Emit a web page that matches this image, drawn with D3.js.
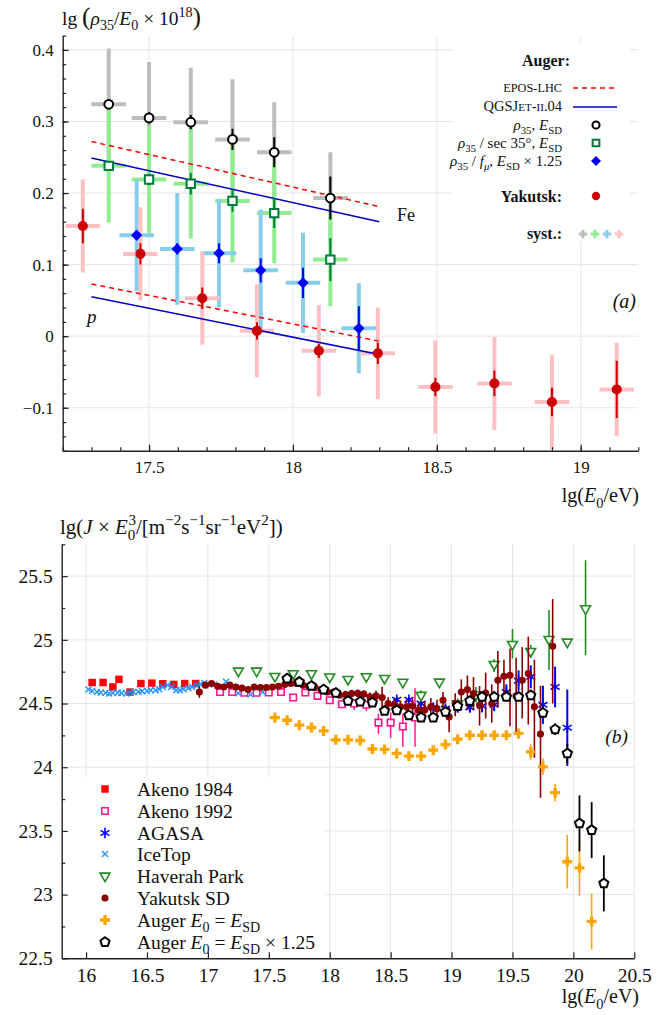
<!DOCTYPE html>
<html>
<head>
<meta charset="utf-8">
<script src="https://cdn.jsdelivr.net/npm/d3@7"></script>
<style>
  body { margin: 0; background: #fff; }
  svg text { font-family: "Liberation Serif", "DejaVu Serif", serif; fill: #111; }
</style>
</head>
<body>
<div id="chart"></div>
<script>
// ---------- panel (a): lg(rho35/E0) ----------
const augerE = [17.36, 17.50, 17.645, 17.79, 17.935, 18.13];
const augerE125 = [17.457, 17.598, 17.743, 17.888, 18.035, 18.229];
const rhoSD = [0.324, 0.305, 0.299, 0.275, 0.257, 0.193];
const rhoSDStat = [0.006, 0.008, 0.010, 0.015, 0.021, 0.030];
const rhoSDSyst = [0.078, 0.078, 0.076, 0.084, 0.070, 0.064];
const rhoSec = [0.238, 0.219, 0.213, 0.189, 0.172, 0.107];
const rhoSecStat = [0.006, 0.008, 0.015, 0.015, 0.021, 0.030];
const rhoSecSyst = [0.079, 0.075, 0.077, 0.086, 0.070, 0.065];
const rhoFmu = [0.141, 0.122, 0.116, 0.092, 0.0745, 0.011];
const rhoFmuStat = [0.006, 0.008, 0.014, 0.017, 0.021, 0.031];
const rhoFmuSyst = [0.078, 0.078, 0.076, 0.085, 0.070, 0.063];

const yakE = [17.27, 17.47, 17.685, 17.875, 18.09, 18.295, 18.495, 18.70, 18.90, 19.125];
const yakRho = [0.154, 0.115, 0.053, 0.0075, -0.0204, -0.024, -0.071, -0.066, -0.092, -0.0744];
const yakStat = [0.024, 0.015, 0.015, 0.012, 0.010, 0.015, 0.013, 0.018, 0.020, 0.040];
const yakSyst = [0.065, 0.065, 0.065, 0.065, 0.064, 0.064, 0.065, 0.065, 0.066, 0.065];
const systHalfWidth = 0.06;

// model lines [lgE start, lgE end], [value start, value end]
const modelE = [17.3, 18.3];
const eposFe = [0.272, 0.181];
const qgsFe = [0.249, 0.160];
const eposP = [0.073, -0.007];
const qgsP = [0.055, -0.0255];

const aXTicks = [17.5, 18, 18.5, 19];
const aYTicks = [-0.1, 0, 0.1, 0.2, 0.3, 0.4];

// ---------- panel (b): lg(J E^3) ----------
const akeno84E = [16.05, 16.14, 16.22, 16.27, 16.36, 16.45, 16.54, 16.63, 16.72, 16.81, 16.90];
const akeno84J = [24.665, 24.665, 24.63, 24.69, 24.59, 24.657, 24.66, 24.655, 24.65, 24.657, 24.657];

const akeno92E = [17.10, 17.20, 17.30, 17.40, 17.50, 17.60, 17.70, 17.80, 17.90, 18.00, 18.10, 18.20, 18.30, 18.40, 18.50, 18.60, 18.70];
const akeno92J = [24.59, 24.59, 24.585, 24.585, 24.586, 24.59, 24.547, 24.586, 24.56, 24.526, 24.494, 24.50, 24.49, 24.35, 24.35, 24.32, 24.39];
const akeno92Lo = [0, 0, 0, 0, 0, 0, 0, 0, 0, 0, 0.01, 0.05, 0.05, 0.09, 0.12, 0.16, 0.23];
const akeno92Hi = [0, 0, 0, 0, 0, 0, 0, 0, 0, 0, 0.01, 0.02, 0.02, 0.07, 0.08, 0.10, 0.23];

const agasaE = [18.55, 18.65, 18.75, 18.85, 18.95, 19.05, 19.15, 19.25, 19.35, 19.45, 19.55, 19.65, 19.75, 19.85, 19.95];
const agasaJ = [24.53, 24.53, 24.50, 24.47, 24.46, 24.47, 24.47, 24.48, 24.49, 24.59, 24.68, 24.71, 24.49, 24.63, 24.31];
const agasaErr = [0.02, 0.02, 0.03, 0.03, 0.03, 0.04, 0.04, 0.05, 0.05, 0.06, 0.08, 0.09, 0.15, 0.16, 0.30];

const iceTopE = [16.02, 16.05, 16.09, 16.12, 16.16, 16.19, 16.22, 16.26, 16.29, 16.33, 16.36, 16.39, 16.43, 16.46, 16.50, 16.53, 16.57,
  16.60, 16.63, 16.67, 16.70, 16.74, 16.77, 16.80, 16.84, 16.87, 16.91, 16.94, 16.97, 17.05, 17.15, 17.25, 17.35, 17.45];
const iceTopJ = [24.61, 24.60, 24.59, 24.586, 24.583, 24.578, 24.583, 24.586, 24.583, 24.578, 24.586, 24.591, 24.591, 24.597, 24.599, 24.604, 24.604,
  24.612, 24.63, 24.644, 24.63, 24.604, 24.604, 24.612, 24.622, 24.63, 24.644, 24.651, 24.662, 24.65, 24.67, 24.58, 24.57, 24.59];

const hpE = [17.25, 17.40, 17.55, 17.70, 17.85, 18.00, 18.15, 18.30, 18.45, 18.60, 18.75, 18.90, 19.05, 19.20, 19.35, 19.50, 19.65, 19.80, 19.95, 20.10];
const hpJ = [24.756, 24.756, 24.714, 24.735, 24.735, 24.709, 24.69, 24.712, 24.698, 24.668, 24.565, 24.669, 24.50, 24.57, 24.808, 24.965, 24.91, 25.004, 24.983, 25.245];
const hpLo = [0, 0, 0, 0, 0, 0, 0, 0, 0, 0, 0.04, 0.02, 0.04, 0.06, 0.06, 0.11, 0.05, 0.24, 0, 0.365];
const hpHi = [0, 0, 0, 0, 0, 0, 0, 0, 0, 0, 0.04, 0.02, 0.04, 0.06, 0.04, 0.12, 0.05, 0.23, 0, 0.38];

const yakSdE = [16.93, 16.98, 17.03, 17.08, 17.13, 17.18, 17.23, 17.28, 17.33, 17.38, 17.43, 17.48, 17.53, 17.58, 17.63, 17.68, 17.73, 17.78,
  17.83, 17.88, 17.93, 17.98, 18.03, 18.08, 18.13, 18.18, 18.23, 18.28, 18.33, 18.38, 18.43, 18.48, 18.53, 18.58, 18.63, 18.68, 18.73, 18.78,
  18.83, 18.88, 18.93, 18.98, 19.03, 19.08, 19.13, 19.18, 19.23, 19.28, 19.33, 19.38, 19.43, 19.48, 19.53, 19.58, 19.63, 19.68, 19.73, 19.83];
const yakSdJ = [24.59, 24.644, 24.657, 24.636, 24.63, 24.644, 24.63, 24.622, 24.61, 24.63, 24.626, 24.626, 24.63, 24.636, 24.649, 24.657, 24.657, 24.644,
  24.636, 24.626, 24.61, 24.591, 24.59, 24.565, 24.57, 24.578, 24.58, 24.575, 24.552, 24.56, 24.547, 24.50, 24.49, 24.474, 24.474, 24.48, 24.448, 24.45,
  24.474, 24.46, 24.526, 24.395, 24.50, 24.59, 24.61, 24.578, 24.487, 24.583, 24.50, 24.683, 24.714, 24.722, 24.56, 24.683, 24.735, 24.474, 24.26, 24.95];
const yakSdLo = [0.045, 0.02, 0.02, 0.02, 0.02, 0.02, 0.02, 0.02, 0.02, 0.02, 0.02, 0.02, 0.02, 0.02, 0.02, 0.02, 0.02, 0.02,
  0.02, 0.02, 0.025, 0.025, 0.025, 0.025, 0.03, 0.03, 0.03, 0.03, 0.035, 0.04, 0.14, 0.05, 0.05, 0.05, 0.06, 0.06, 0.06, 0.07,
  0.07, 0.07, 0.065, 0.12, 0.10, 0.12, 0.16, 0.13, 0.16, 0.20, 0.15, 0.21, 0.19, 0.40, 0.30, 0.30, 0.40, 0.40, 0.50, 0.45];
const yakSdHi = [0.045, 0.02, 0.02, 0.02, 0.02, 0.02, 0.02, 0.02, 0.02, 0.02, 0.02, 0.02, 0.02, 0.02, 0.02, 0.02, 0.02, 0.02,
  0.02, 0.02, 0.025, 0.025, 0.025, 0.025, 0.03, 0.03, 0.03, 0.03, 0.035, 0.04, 0.084, 0.05, 0.05, 0.05, 0.06, 0.06, 0.06, 0.07,
  0.07, 0.07, 0.065, 0.08, 0.08, 0.10, 0.11, 0.13, 0.15, 0.16, 0.15, 0.23, 0.13, 0.21, 0.30, 0.26, 0.29, 0.37, 0.38, 0.37];

const augerSdE = [17.55, 17.65, 17.75, 17.85, 17.95, 18.05, 18.15, 18.25, 18.35, 18.45, 18.55, 18.65, 18.75, 18.85, 18.95, 19.05, 19.15, 19.25,
  19.35, 19.45, 19.55, 19.65, 19.75, 19.85, 19.95, 20.05, 20.15];
const augerSdJ = [24.39, 24.369, 24.33, 24.312, 24.285, 24.215, 24.215, 24.21, 24.143, 24.14, 24.108, 24.087, 24.087, 24.134, 24.178, 24.22, 24.251, 24.251,
  24.251, 24.251, 24.265, 24.12, 24.003, 23.80, 23.258, 23.21, 22.79];
const augerSdErr = [0, 0, 0, 0, 0, 0, 0, 0, 0, 0, 0, 0, 0, 0, 0, 0, 0, 0, 0.01, 0.015, 0.02, 0.06, 0.065, 0.07, 0.21, 0.22, 0.22];

const auger125E = [17.65, 17.75, 17.85, 17.95, 18.05, 18.15, 18.25, 18.35, 18.45, 18.55, 18.65, 18.75, 18.85, 18.95, 19.05, 19.15, 19.25, 19.35,
  19.45, 19.55, 19.65, 19.75, 19.85, 19.95, 20.05, 20.15, 20.25];
const auger125J = [24.696, 24.67, 24.638, 24.61, 24.583, 24.52, 24.515, 24.508, 24.442, 24.447, 24.408, 24.39, 24.39, 24.434, 24.48, 24.52, 24.552, 24.552,
  24.552, 24.552, 24.565, 24.427, 24.298, 24.108, 23.559, 23.506, 23.088];
const auger125Err = [0, 0, 0, 0, 0, 0, 0, 0, 0, 0, 0, 0, 0, 0, 0, 0, 0, 0, 0.01, 0.015, 0.02, 0.035, 0.045, 0.075, 0.22, 0.22, 0.22];

const bXTicks = [16, 16.5, 17, 17.5, 18, 18.5, 19, 19.5, 20, 20.5];
const bYTicks = [22.5, 23, 23.5, 24, 24.5, 25, 25.5];

// ---------- drawing ----------
const svg = d3.select('#chart').append('svg')
  .attr('width', 671)
  .attr('height', 1015)

const fmt = d3.format('~g');
const axisColor = '#222';
const gridColor = '#e5e5e5';

// pentagon marker for Auger x1.25
const pentagon = {
  draw(ctx, size) {
    const r = Math.sqrt(size / 2.378);
    for (let k = 0; k < 5; k++) {
      const a = -Math.PI / 2 + k * 2 * Math.PI / 5;
      const px = r * Math.cos(a), py = r * Math.sin(a);
      if (k === 0) ctx.moveTo(px, py); else ctx.lineTo(px, py);
    }
    ctx.closePath();
  }
};

// text with italic / sub / sup pieces; optional per-piece size factor
function rich(sel, parts, size) {
  let off = 0;
  parts.forEach(([s, kind, dx, scale]) => {
    const k = (kind || '').split(' ');
    const t = sel.append('tspan').text(s);
    let target = 0, fs = size * (scale || 1);
    if (k.includes('sub')) { target = size * 0.28; fs = size * 0.72; }
    if (k.includes('sup')) { target = -size * 0.42; fs = size * 0.72; }
    if (k.includes('big')) fs = size * 1.3;
    t.attr('dy', target - off).attr('font-size', fs);
    if (dx) t.attr('dx', dx);
    off = target;
    if (k.includes('i')) t.attr('font-style', 'italic');
    if (k.includes('b')) t.attr('font-weight', 'bold');
  });
  return sel;
}

function label(g, x, y, parts, size, anchor) {
  const t = g.append('text').attr('x', x).attr('y', y)
    .attr('font-size', size).attr('text-anchor', anchor || 'start');
  return rich(t, parts, size);
}

function vErr(g, xs, ys, lo, hi, x, y, color, w) {
  g.selectAll(null)
    .data(d3.range(xs.length).filter(i => lo[i] > 0 || hi[i] > 0))
    .join('line')
    .attr('x1', i => x(xs[i])).attr('x2', i => x(xs[i]))
    .attr('y1', i => y(ys[i] - lo[i])).attr('y2', i => y(ys[i] + hi[i]))
    .attr('stroke', color).attr('stroke-width', w);
}

function hErr(g, xs, ys, half, x, y, color, w) {
  g.selectAll(null)
    .data(d3.range(xs.length))
    .join('line')
    .attr('x1', i => x(xs[i] - half)).attr('x2', i => x(xs[i] + half))
    .attr('y1', i => y(ys[i])).attr('y2', i => y(ys[i]))
    .attr('stroke', color).attr('stroke-width', w);
}

function markers(g, xs, ys, x, y, type, size, fill, stroke, sw, rot) {
  g.selectAll(null)
    .data(d3.range(xs.length))
    .join('path')
    .attr('d', d3.symbol().type(type).size(size))
    .attr('transform', i => `translate(${x(xs[i])},${y(ys[i])})` + (rot ? ` rotate(${rot})` : ''))
    .attr('fill', fill)
    .attr('stroke', stroke || 'none')
    .attr('stroke-width', sw || 0);
}

function drawGrid(g, x, y, xt, yt) {
  const grid = g.append('g');
  grid.selectAll(null).data(xt).join('line')
    .attr('x1', d => x(d)).attr('x2', d => x(d))
    .attr('y1', y.range()[0]).attr('y2', y.range()[1])
    .attr('stroke', gridColor);
  grid.selectAll(null).data(yt.filter(d => d > y.domain()[0])).join('line')
    .attr('y1', d => y(d)).attr('y2', d => y(d))
    .attr('x1', x.range()[0]).attr('x2', x.range()[1])
    .attr('stroke', gridColor);
  return grid;
}

function drawTicks(g, x, y, xt, yt, xMinor, yMinor, fs) {
  g.append('g').attr('transform', `translate(0,${y.range()[0]})`)
    .call(d3.axisBottom(x).tickValues(xt).tickFormat(fmt).tickSizeInner(-6).tickSizeOuter(0).tickPadding(10));
  g.append('g').attr('transform', `translate(${x.range()[0]},0)`)
    .call(d3.axisLeft(y).tickValues(yt).tickFormat(fmt).tickSizeInner(-6).tickSizeOuter(0).tickPadding(9));
  if (xMinor.length) {
    g.append('g').attr('transform', `translate(0,${y.range()[0]})`)
      .call(d3.axisBottom(x).tickValues(xMinor).tickFormat('').tickSizeInner(-3.5).tickSizeOuter(0))
      .select('.domain').remove();
  }
  g.append('g').attr('transform', `translate(${x.range()[0]},0)`)
    .call(d3.axisLeft(y).tickValues(yMinor).tickFormat('').tickSizeInner(-3.5).tickSizeOuter(0))
    .select('.domain').remove();
  g.selectAll('.domain').attr('stroke', axisColor).attr('stroke-width', 1.4);
  g.selectAll('.tick line').attr('stroke', axisColor).attr('stroke-width', 1.2);
  g.selectAll('.tick text').attr('font-size', fs).attr('font-family', '"Liberation Serif", serif').attr('fill', '#111');
}

// ===== panel (a) =====
const xA = d3.scaleLinear().domain([17.2, 19.2]).range([62.7, 638.3]);
const yA = d3.scaleLinear().domain([-0.16, 0.42]).range([450.7, 35.6]);
const gA = svg.append('g');

svg.append('clipPath').attr('id', 'clipA').append('rect')
  .attr('x', 62.7).attr('y', 35.6).attr('width', 638.3 - 62.7).attr('height', 450.7 - 35.6);

drawGrid(gA, xA, yA, aXTicks, aYTicks);

// legend background for (a)
gA.append('rect').attr('x', 453).attr('y', 43).attr('width', 177).attr('height', 198).attr('fill', '#fff');

const pA = gA.append('g').attr('clip-path', 'url(#clipA)');

// systematics (thick, light)
vErr(pA, augerE, rhoSD, rhoSDSyst, rhoSDSyst, xA, yA, '#bdbdbd', 4);
hErr(pA, augerE, rhoSD, systHalfWidth, xA, yA, '#bdbdbd', 4);
vErr(pA, augerE, rhoSec, rhoSecSyst, rhoSecSyst, xA, yA, '#90ee90', 4);
hErr(pA, augerE, rhoSec, systHalfWidth, xA, yA, '#90ee90', 4);
vErr(pA, augerE125, rhoFmu, rhoFmuSyst, rhoFmuSyst, xA, yA, '#87ceeb', 4);
hErr(pA, augerE125, rhoFmu, systHalfWidth, xA, yA, '#87ceeb', 4);
vErr(pA, yakE, yakRho, yakSyst, yakSyst, xA, yA, '#ffc0c4', 4);
hErr(pA, yakE, yakRho, systHalfWidth, xA, yA, '#ffc0c4', 4);

// model lines
[[eposFe, true], [qgsFe, false], [eposP, true], [qgsP, false]].forEach(([vals, dashed]) => {
  pA.append('line')
    .attr('x1', xA(modelE[0])).attr('x2', xA(modelE[1]))
    .attr('y1', yA(vals[0])).attr('y2', yA(vals[1]))
    .attr('stroke', dashed ? '#ff0000' : '#0000cc')
    .attr('stroke-width', 1.5)
    .attr('stroke-dasharray', dashed ? '5,4' : null);
});

// statistical errors + markers
vErr(pA, augerE, rhoSD, rhoSDStat, rhoSDStat, xA, yA, '#000', 2);
markers(pA, augerE, rhoSD, xA, yA, d3.symbolCircle, 60, '#fff', '#000', 2);
vErr(pA, augerE, rhoSec, rhoSecStat, rhoSecStat, xA, yA, '#007a3d', 2);
markers(pA, augerE, rhoSec, xA, yA, d3.symbolSquare, 70, '#fff', '#007a3d', 2);
vErr(pA, augerE125, rhoFmu, rhoFmuStat, rhoFmuStat, xA, yA, '#0000ff', 2);
markers(pA, augerE125, rhoFmu, xA, yA, d3.symbolSquare, 64, '#0000ff', null, 0, 45);
vErr(pA, yakE, yakRho, yakStat, yakStat, xA, yA, '#cc0000', 2);
markers(pA, yakE, yakRho, xA, yA, d3.symbolCircle, 80, '#cc0000');

drawTicks(gA, xA, yA, aXTicks, aYTicks, d3.range(17.2, 19.21, 0.1).map(d => +d.toFixed(1)),
  d3.range(-0.16, 0.421, 0.02).map(d => +d.toFixed(2)), 17);

// labels in (a)
label(gA, 397, 221, [['Fe', '']], 18);
label(gA, 87, 323, [['p', 'i']], 19);
label(gA, 636, 308, [['(a)', 'i']], 20, 'end');
label(gA, 62, 25, [['lg ', ''], ['(', 'big'], ['ρ', 'i'], ['35', 'sub'], ['/', ''], ['E', 'i'], ['0', 'sub'], [' × 10', ''], ['18', 'sup'], [')', 'big']], 19.5);
label(gA, 639, 502, [['lg(', ''], ['E', 'i'], ['0', 'sub'], ['/eV)', '']], 20, 'end');

// legend (a)
const legA = gA.append('g');
const mx = 596;
label(legA, 570, 66, [['Auger:', 'b']], 16, 'end');
label(legA, 562, 92, [['EPOS-LHC', '']], 12.3, 'end');
legA.append('line').attr('x1', 573).attr('x2', 617).attr('y1', 88).attr('y2', 88)
  .attr('stroke', '#ff0000').attr('stroke-width', 1.5).attr('stroke-dasharray', '5,4');
label(legA, 562, 111, [['QGSJ', ''], ['ET', '', 0, 0.76], ['-', ''], ['II', '', 0, 0.76], ['.04', '']], 14.5, 'end');
legA.append('line').attr('x1', 573).attr('x2', 617).attr('y1', 107).attr('y2', 107)
  .attr('stroke', '#0000cc').attr('stroke-width', 1.5);
label(legA, 562, 130, [['ρ', 'i'], ['35', 'sub'], [', ', ''], ['E', 'i'], ['SD', 'sub']], 15, 'end');
legA.append('path').attr('d', d3.symbol(d3.symbolCircle, 40)()).attr('transform', `translate(${mx},125)`)
  .attr('fill', '#fff').attr('stroke', '#000').attr('stroke-width', 2);
label(legA, 562, 148, [['ρ', 'i'], ['35', 'sub'], [' / sec 35°, ', ''], ['E', 'i'], ['SD', 'sub']], 15, 'end');
legA.append('path').attr('d', d3.symbol(d3.symbolSquare, 45)()).attr('transform', `translate(${mx},143)`)
  .attr('fill', '#fff').attr('stroke', '#007a3d').attr('stroke-width', 2);
label(legA, 562, 166, [['ρ', 'i'], ['35', 'sub'], [' / ', ''], ['f', 'i'], ['μ', 'i sub'], [', ', ''], ['E', 'i'], ['SD', 'sub'], [' × 1.25', '']], 15, 'end');
legA.append('path').attr('d', d3.symbol(d3.symbolSquare, 50)()).attr('transform', `translate(${mx},161) rotate(45)`)
  .attr('fill', '#0000ff');
label(legA, 562, 202, [['Yakutsk:', 'b']], 16, 'end');
legA.append('path').attr('d', d3.symbol(d3.symbolCircle, 55)()).attr('transform', `translate(${mx},196)`)
  .attr('fill', '#cc0000');
label(legA, 562, 239, [['syst.:', 'b']], 16, 'end');
['#bdbdbd', '#90ee90', '#87ceeb', '#ffc0c4'].forEach((c, i) => {
  legA.append('path').attr('d', d3.symbol(d3.symbolCross, 40)()).attr('transform', `translate(${583 + i * 12},234)`)
    .attr('fill', c);
});

// ===== panel (b) =====
const xB = d3.scaleLinear().domain([15.8, 20.5]).range([61.7, 634.3]);
const yB = d3.scaleLinear().domain([22.5, 25.75]).range([958.3, 544.3]);
const gB = svg.append('g');

drawGrid(gB, xB, yB, bXTicks, bYTicks);
gB.append('rect').attr('x', 63).attr('y', 777).attr('width', 262).attr('height', 180).attr('fill', '#fff');

const pB = gB.append('g');

markers(pB, akeno84E, akeno84J, xB, yB, d3.symbolSquare, 56, '#ff0000');

vErr(pB, akeno92E, akeno92J, akeno92Lo, akeno92Hi, xB, yB, '#ff1493', 1.5);
markers(pB, akeno92E, akeno92J, xB, yB, d3.symbolSquare, 42, '#fff', '#ff1493', 1.6);

vErr(pB, agasaE, agasaJ, agasaErr, agasaErr, xB, yB, '#0000ff', 2);
markers(pB, agasaE, agasaJ, xB, yB, d3.symbolAsterisk, 75, 'none', '#0000ff', 1.6);

markers(pB, iceTopE, iceTopJ, xB, yB, d3.symbolTimes, 26, 'none', '#1e90ff', 1.3);

vErr(pB, hpE, hpJ, hpLo, hpHi, xB, yB, '#228b22', 1.6);
markers(pB, hpE, hpJ, xB, yB, d3.symbolTriangle, 42, '#fff', '#228b22', 1.6, 180);

vErr(pB, yakSdE, yakSdJ, yakSdLo, yakSdHi, xB, yB, '#8b0000', 1.6);
markers(pB, yakSdE, yakSdJ, xB, yB, d3.symbolCircle, 40, '#8b0000');

vErr(pB, augerSdE, augerSdJ, augerSdErr, augerSdErr, xB, yB, '#ffa500', 1.6);
markers(pB, augerSdE, augerSdJ, xB, yB, d3.symbolCross, 55, '#ffa500');

vErr(pB, auger125E, auger125J, auger125Err, auger125Err, xB, yB, '#000', 1.8);
markers(pB, auger125E, auger125J, xB, yB, pentagon, 55, '#fff', '#000', 2);

drawTicks(gB, xB, yB, bXTicks, bYTicks, [], d3.range(22.75, 25.76, 0.5), 19.5);

label(gB, 628, 743, [['(b)', 'i']], 19.5, 'end');
label(gB, 60, 534, [['lg(', ''], ['J', 'i'], [' × ', ''], ['E', 'i'], ['0', 'sub'], ['3', 'sup', -7], ['/[m', ''], ['−2', 'sup'],
  ['s', ''], ['−1', 'sup'], ['sr', ''], ['−1', 'sup'], ['eV', ''], ['2', 'sup'], ['])', '']], 21);
label(gB, 639, 1003, [['lg(', ''], ['E', 'i'], ['0', 'sub'], ['/eV)', '']], 20, 'end');

// legend (b)
const legB = gB.append('g');
const lx = 105, tx = 137;
const legRows = [
  { y: 789, type: d3.symbolSquare, size: 56, fill: '#ff0000', parts: [['Akeno 1984', '']] },
  { y: 811, type: d3.symbolSquare, size: 42, fill: '#fff', stroke: '#ff1493', sw: 1.6, parts: [['Akeno 1992', '']] },
  { y: 833, type: d3.symbolAsterisk, size: 75, fill: 'none', stroke: '#0000ff', sw: 1.6, parts: [['AGASA', '']] },
  { y: 854, type: d3.symbolTimes, size: 26, fill: 'none', stroke: '#1e90ff', sw: 1.3, parts: [['IceTop', '']] },
  { y: 876, type: d3.symbolTriangle, size: 42, fill: '#fff', stroke: '#228b22', sw: 1.6, rot: 180, parts: [['Haverah Park', '']] },
  { y: 898, type: d3.symbolCircle, size: 40, fill: '#8b0000', parts: [['Yakutsk SD', '']] },
  { y: 920, type: d3.symbolCross, size: 55, fill: '#ffa500', parts: [['Auger ', ''], ['E', 'i'], ['0', 'sub'], [' = ', ''], ['E', 'i'], ['SD', 'sub']] },
  { y: 942, type: pentagon, size: 55, fill: '#fff', stroke: '#000', sw: 2, parts: [['Auger ', ''], ['E', 'i'], ['0', 'sub'], [' = ', ''], ['E', 'i'], ['SD', 'sub'], [' × 1.25', '']] }
];
legRows.forEach(r => {
  legB.append('path').attr('d', d3.symbol(r.type, r.size)())
    .attr('transform', `translate(${lx},${r.y})` + (r.rot ? ` rotate(${r.rot})` : ''))
    .attr('fill', r.fill).attr('stroke', r.stroke || 'none').attr('stroke-width', r.sw || 0);
  label(legB, tx, r.y + 7, r.parts, 19.5);
});
</script>
</body>
</html>
